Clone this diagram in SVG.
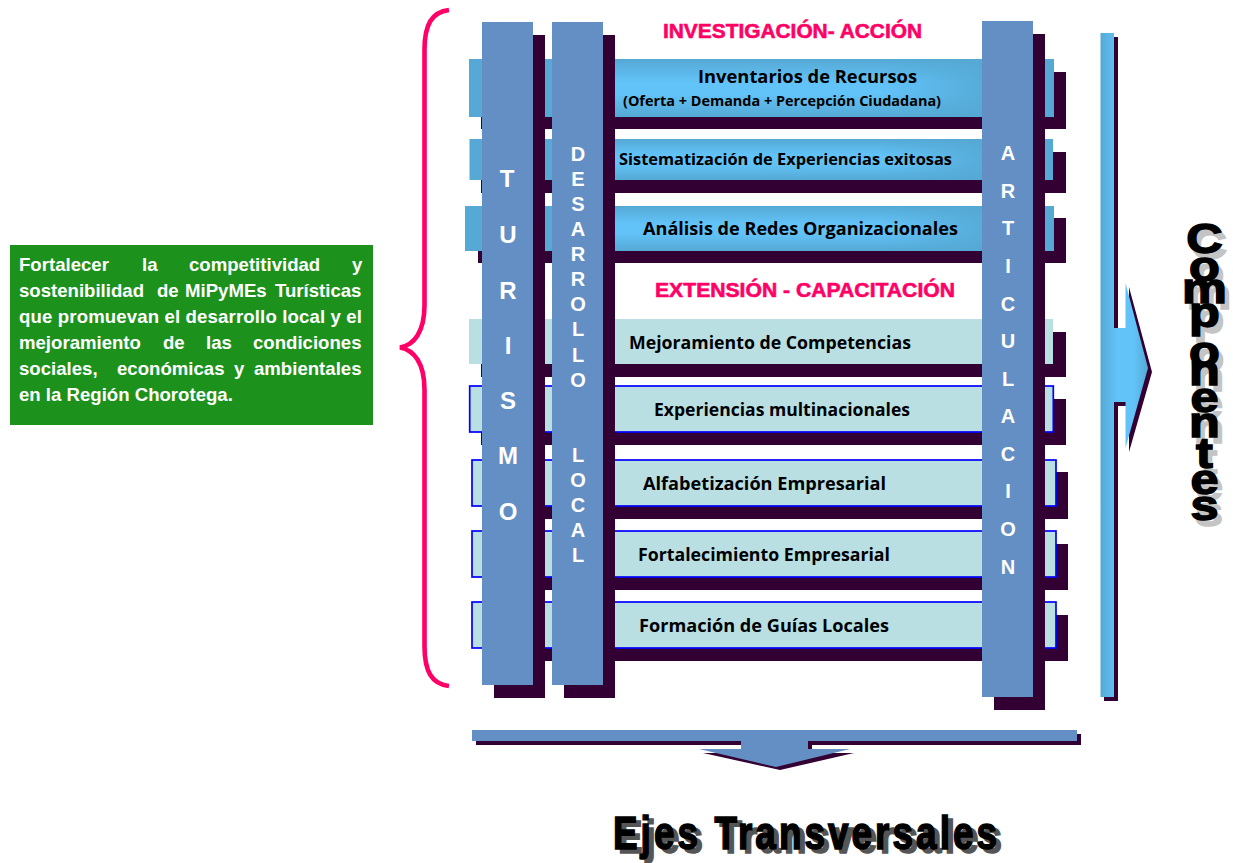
<svg xmlns="http://www.w3.org/2000/svg" width="1233" height="863" viewBox="0 0 1233 863">
<style>
.sh{fill:#330033}
.blue{fill:#55a9d4}
.grad{fill:url(#vg);mask:url(#fm)}
.light{fill:#b9dfe3}
.edge{fill:#b9dfe3;stroke:#0000ff;stroke-width:1.7}
.col{fill:#638fc4}
.lab{font-family:"Open Sans","Lato",sans-serif;font-weight:700;fill:#000;font-size:17px}
.cl{font-family:"Liberation Sans",Arial,sans-serif;font-weight:700;fill:#fff;text-anchor:middle}
.head{font-family:"Liberation Sans",Arial,sans-serif;font-weight:700;fill:#ff0066;stroke:#ff0066;stroke-width:.6;font-size:21px}
.goal{font-family:"Liberation Sans",Arial,sans-serif;font-weight:700;fill:#fff;font-size:18.6px}
.big{font-family:"Liberation Sans",Arial,sans-serif;font-weight:700;text-anchor:middle;font-size:42px;stroke-width:1.5}
.k{fill:#000;stroke:#000}
.g1{fill:#c4c4c4;stroke:#c4c4c4}
.ej{font-family:"Liberation Sans",Arial,sans-serif;font-weight:700;font-size:46px;stroke-width:1.6}
.g2{fill:#555;stroke:#555}
</style>
<defs>
<linearGradient id="vg" x1="0" y1="0" x2="0" y2="1"><stop offset="0" stop-color="#55a9d4"/><stop offset=".4" stop-color="#62c3f8"/><stop offset=".6" stop-color="#62c3f8"/><stop offset="1" stop-color="#55a9d4"/></linearGradient>
<linearGradient id="hg" gradientUnits="userSpaceOnUse" x1="880" y1="0" x2="1000" y2="0"><stop offset="0" stop-color="#fff"/><stop offset="1" stop-color="#000"/></linearGradient>
<mask id="fm" maskUnits="userSpaceOnUse" x="600" y="0" width="420" height="300"><rect x="600" y="0" width="420" height="300" fill="url(#hg)"/></mask>
<linearGradient id="ag" x1="0" y1="0" x2="1" y2="0"><stop offset="0" stop-color="#55a9d4"/><stop offset=".35" stop-color="#62c3f8"/><stop offset=".7" stop-color="#62c3f8"/><stop offset="1" stop-color="#55a9d4"/></linearGradient>
</defs>
<rect width="1233" height="863" fill="#fff"/>

<g id="goal">
<rect x="10" y="245" width="363" height="180" fill="#1c921c"/>
<text class="goal" y="271"><tspan x="19">Fortalecer</tspan><tspan x="142">la</tspan><tspan x="189">competitividad</tspan><tspan x="352">y</tspan></text>
<text class="goal" y="297"><tspan x="19">sostenibilidad</tspan><tspan x="157">de</tspan><tspan x="185">MiPyMEs</tspan><tspan x="275">Turísticas</tspan></text>
<text class="goal" y="323" x="19" textLength="343">que promuevan el desarrollo local y el</text>
<text class="goal" y="349"><tspan x="19">mejoramiento</tspan><tspan x="163">de</tspan><tspan x="206">las</tspan><tspan x="253">condiciones</tspan></text>
<text class="goal" y="375"><tspan x="19">sociales,</tspan><tspan x="117">económicas</tspan><tspan x="234">y</tspan><tspan x="254">ambientales</tspan></text>
<text class="goal" y="401" x="19">en la Región Chorotega.</text>
</g>

<g id="brace"><path d="M449 10C432 12 424.500 24 424.500 50V305C424.500 332 414 345 400 347.500C414 350 424.500 363 424.500 390V646C424.500 672 432 684 449 686" fill="none" stroke="#ff0066" stroke-width="4.600"/></g>

<g id="row1"><rect class="sh" x="481" y="72" width="585" height="57"/><rect class="blue" x="469" y="59" width="585" height="58"/><rect class="grad" x="600" y="59" width="400" height="58"/></g>
<g id="row2"><rect class="sh" x="481" y="152" width="585" height="41"/><rect class="blue" x="469.500" y="139" width="583.500" height="41"/><rect class="grad" x="600" y="139" width="400" height="41"/></g>
<g id="row3"><rect class="sh" x="478" y="218" width="588" height="45"/><rect class="blue" x="465" y="206" width="589" height="45"/><rect class="grad" x="600" y="206" width="400" height="45"/></g>
<g id="row4"><rect class="sh" x="481" y="332" width="585" height="45"/><rect class="light" x="469" y="319" width="584" height="45"/></g>
<g id="row5"><rect class="sh" x="481" y="399" width="585" height="46"/><rect class="edge" x="469.700" y="386" width="583.600" height="46"/></g>
<g id="row6"><rect class="sh" x="484" y="472" width="584" height="47"/><rect class="edge" x="472" y="460" width="584" height="46"/></g>
<g id="row7"><rect class="sh" x="484" y="544" width="584" height="46"/><rect class="edge" x="472" y="531" width="584" height="46"/></g>
<g id="row8"><rect class="sh" x="484" y="615" width="584" height="46"/><rect class="edge" x="472" y="602" width="584" height="46"/></g>

<g id="col-turismo"><rect class="sh" x="494" y="35" width="51" height="663"/><rect class="col" x="482" y="22" width="51" height="663"/>
<g class="cl" font-size="24"><text x="507" y="187">T</text><text x="508" y="243">U</text><text x="508" y="299">R</text><text x="508" y="354">I</text><text x="508" y="409">S</text><text x="508" y="464">M</text><text x="508" y="520">O</text></g></g>
<g id="col-desarrollo"><rect class="sh" x="564" y="35" width="51" height="663"/><rect class="col" x="552" y="22" width="51" height="663"/>
<g class="cl" font-size="20"><text x="578" y="161">D</text><text x="578" y="186">E</text><text x="578" y="211">S</text><text x="578" y="236">A</text><text x="578" y="261">R</text><text x="578" y="286">R</text><text x="578" y="311">O</text><text x="578" y="336">L</text><text x="578" y="362">L</text><text x="578" y="387">O</text><text x="578" y="462">L</text><text x="578" y="487">O</text><text x="578" y="512">C</text><text x="578" y="537">A</text><text x="578" y="562">L</text></g></g>
<g id="col-articulacion"><rect class="sh" x="994" y="34" width="51" height="676"/><rect class="col" x="982" y="21" width="51" height="676"/>
<g class="cl" font-size="20"><text x="1008" y="160">A</text><text x="1008" y="198">R</text><text x="1008" y="235">T</text><text x="1008" y="273">I</text><text x="1008" y="311">C</text><text x="1008" y="348">U</text><text x="1008" y="386">L</text><text x="1008" y="423">A</text><text x="1008" y="461">C</text><text x="1008" y="498">I</text><text x="1008" y="536">O</text><text x="1008" y="574">N</text></g></g>

<g id="labels">
<text class="head" x="663" y="38" textLength="259" lengthAdjust="spacingAndGlyphs">INVESTIGACIÓN- ACCIÓN</text>
<text class="head" x="655" y="297" textLength="300" lengthAdjust="spacingAndGlyphs">EXTENSIÓN - CAPACITACIÓN</text>
<text class="lab" x="698" y="83" textLength="219" lengthAdjust="spacingAndGlyphs">Inventarios de Recursos</text>
<text class="lab" x="623" y="106" textLength="318" lengthAdjust="spacingAndGlyphs" style="font-size:13.500px">(Oferta + Demanda + Percepción Ciudadana)</text>
<text class="lab" x="619" y="165" textLength="333" lengthAdjust="spacingAndGlyphs" style="font-size:16px">Sistematización de Experiencias exitosas</text>
<text class="lab" x="643" y="235" textLength="315" lengthAdjust="spacingAndGlyphs">Análisis de Redes Organizacionales</text>
<text class="lab" x="629" y="349" textLength="282" lengthAdjust="spacingAndGlyphs">Mejoramiento de Competencias</text>
<text class="lab" x="654" y="416" textLength="256" lengthAdjust="spacingAndGlyphs">Experiencias multinacionales</text>
<text class="lab" x="643" y="490" textLength="243" lengthAdjust="spacingAndGlyphs">Alfabetización Empresarial</text>
<text class="lab" x="638" y="561" textLength="252" lengthAdjust="spacingAndGlyphs">Fortalecimiento Empresarial</text>
<text class="lab" x="639" y="632" textLength="250" lengthAdjust="spacingAndGlyphs">Formación de Guías Locales</text>
</g>

<g id="connectors">
<path class="sh" d="M1104 37H1118V332H1129V287L1152 372L1129 452V406H1118V701H1104Z"/>
<path fill="url(#ag)" d="M1100.500 33H1114V328H1125.500V283L1148 368L1125.500 448V402H1114V697H1100.500Z"/>
<path class="sh" d="M476 734H1081V745H812V753H854L780 770L703 753H745V745H476Z"/>
<path class="col" d="M472 730H1077V741H808V749H850L776 767L699 749H741V741H472Z"/>
</g>

<g id="componentes" class="big">
<g class="g1" transform="translate(1209 6) scale(1.2 1)"><text y="253">C</text><text y="281">o</text><text y="303">m</text><text y="327">p</text><text y="366">o</text><text y="385">n</text><text y="412.500">e</text><text y="437">n</text><text y="468">t</text><text y="494.500">e</text><text y="520">s</text></g>
<g class="k" transform="translate(1204.500 0) scale(1.2 1)"><text y="253">C</text><text y="281">o</text><text y="303">m</text><text y="327">p</text><text y="366">o</text><text y="385">n</text><text y="412.500">e</text><text y="437">n</text><text y="468">t</text><text y="494.500">e</text><text y="520">s</text></g>
</g>
<g id="ejes" class="ej">
<text class="g2" transform="translate(618 853) scale(.8 1)" textLength="480" lengthAdjust="spacing">Ejes Transversales</text>
<text class="k" transform="translate(613 849) scale(.8 1)" textLength="480" lengthAdjust="spacing">Ejes Transversales</text>
</g>
</svg>
